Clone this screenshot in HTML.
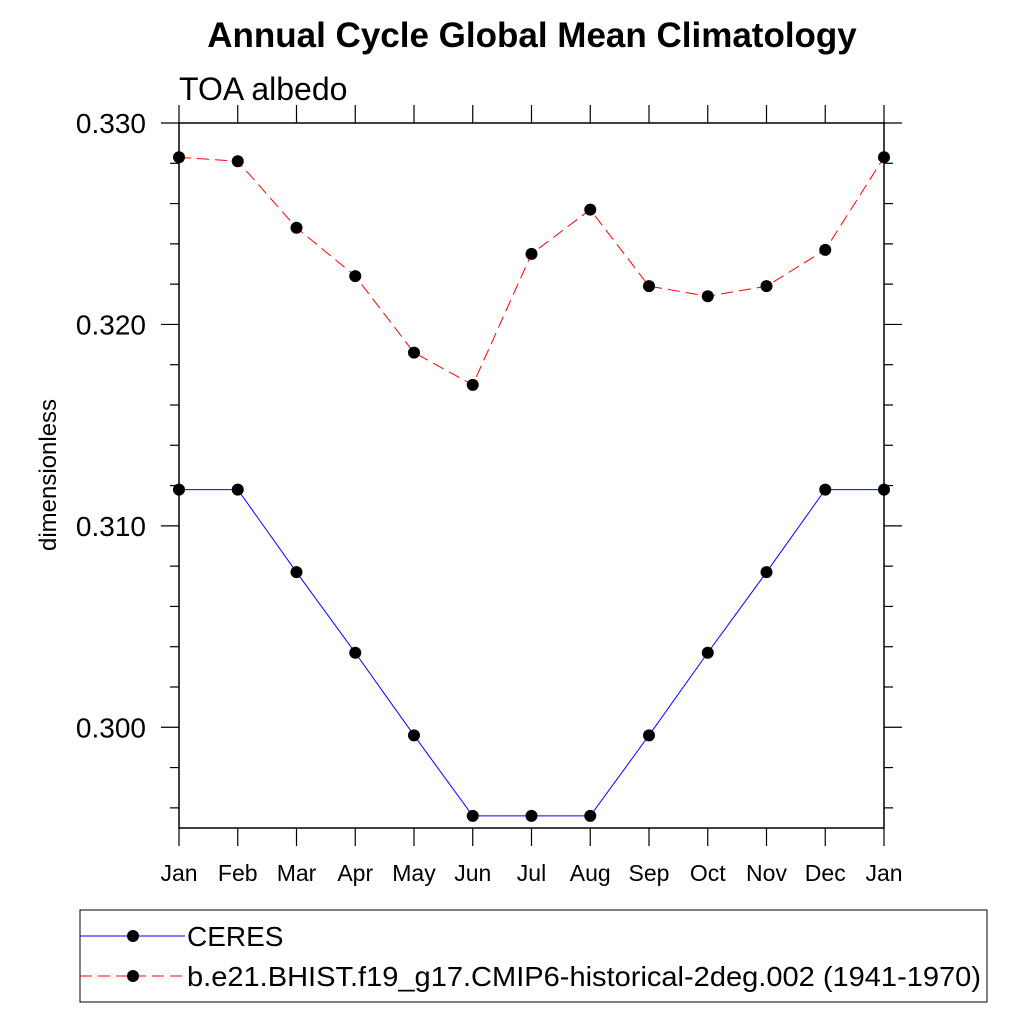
<!DOCTYPE html>
<html><head><meta charset="utf-8"><style>
body{margin:0;background:#fff}
svg{display:block;font-family:"Liberation Sans",Arial,sans-serif}
</style></head><body>
<svg id="chart" width="1024" height="1024" viewBox="0 0 1024 1024">
<text x="532" y="47" text-anchor="middle" font-size="35" font-weight="bold">Annual Cycle Global Mean Climatology</text>
<text x="179" y="100" font-size="32">TOA albedo</text>
<text transform="translate(56,475) rotate(-90)" text-anchor="middle" font-size="24">dimensionless</text>
<rect x="179" y="123" width="705" height="705" fill="none" stroke="#000" stroke-width="1.5"/>
<g id="axes"></g>
<g id="series"></g>
<rect x="80" y="910" width="907" height="92" fill="none" stroke="#000" stroke-width="1"/>
<g>
<line x1="80" y1="936" x2="185" y2="936" stroke="#00f" stroke-width="1"/>
<circle cx="133" cy="936" r="6" fill="#000"/>
<text x="187" y="946" font-size="28">CERES</text>
</g>
<g>
<line x1="80" y1="976" x2="185" y2="976" stroke="#f00" stroke-width="1" stroke-dasharray="12,6"/>
<circle cx="133" cy="976" r="6" fill="#000"/>
<text x="187" y="986" font-size="28" textLength="794" lengthAdjust="spacingAndGlyphs">b.e21.BHIST.f19_g17.CMIP6-historical-2deg.002 (1941-1970)</text>
</g>
</svg>
<script>
const months=["Jan","Feb","Mar","Apr","May","Jun","Jul","Aug","Sep","Oct","Nov","Dec","Jan"];
const ceres=[0.3118,0.3118,0.3077,0.3037,0.2996,0.2956,0.2956,0.2956,0.2996,0.3037,0.3077,0.3118,0.3118];
const model=[0.3283,0.3281,0.3248,0.3224,0.3186,0.3170,0.3235,0.3257,0.3219,0.3214,0.3219,0.3237,0.3283];
const yTicks=[0.300,0.310,0.320,0.330];
const yTickLabels=["0.300","0.310","0.320","0.330"];
const NS="http://www.w3.org/2000/svg";
const X0=179,X1=884,Y0=828,Y1=123,YMIN=0.295,YMAX=0.330;
function xs(i){return X0+(X1-X0)*i/(months.length-1);}
function ys(v){return Y0-(v-YMIN)/(YMAX-YMIN)*(Y0-Y1);}
function mk(t,a,p){const e=document.createElementNS(NS,t);for(const k in a)e.setAttribute(k,a[k]);p.appendChild(e);return e;}
const ax=document.getElementById('axes');
months.forEach((m,i)=>{
 const x=xs(i);
 const t=mk('line',{x1:x,x2:x,y1:828,y2:846,stroke:'#000','stroke-width':1.2},ax);
 
 
 const t2=mk('line',{x1:x,x2:x,y1:105,y2:123,stroke:'#000','stroke-width':1.2},ax);
 
 
 const l=mk('text',{x:x,y:881,'text-anchor':'middle','font-size':23},ax);
 l.textContent=m;
 
 
});
for(let v=0.296;v<0.3301;v+=0.002){
 const y=ys(v);
 const r=Math.round(v*1000);
 const major=r%10===0;
 const len=major?18:9;
 const b=mk('line',{x1:X1,x2:X1+len,y1:y,y2:y,stroke:'#000','stroke-width':1.2},ax);
 
 
 const c=mk('line',{x1:X0-len,x2:X0,y1:y,y2:y,stroke:'#000','stroke-width':1.2},ax);
 
 
}
yTicks.forEach((v,i)=>{
 const l=mk('text',{x:146,y:ys(v)+10,'text-anchor':'end','font-size':28},ax);
 l.textContent=yTickLabels[i];
 
 
});
const sg=document.getElementById('series');
function draw(vals,color,dash,name){
 const p=mk('polyline',{points:vals.map((v,i)=>xs(i)+','+ys(v)).join(' '),fill:'none',stroke:color,'stroke-width':1,'stroke-dasharray':dash},sg);
 
 
 vals.forEach((v,i)=>{
  const c=mk('circle',{cx:xs(i),cy:ys(v),r:6,fill:'#000'},sg);
  
  
 });
}
draw(ceres,'#00f','none','ceres');
draw(model,'#f00','12,6','model');
</script>
</body></html>
